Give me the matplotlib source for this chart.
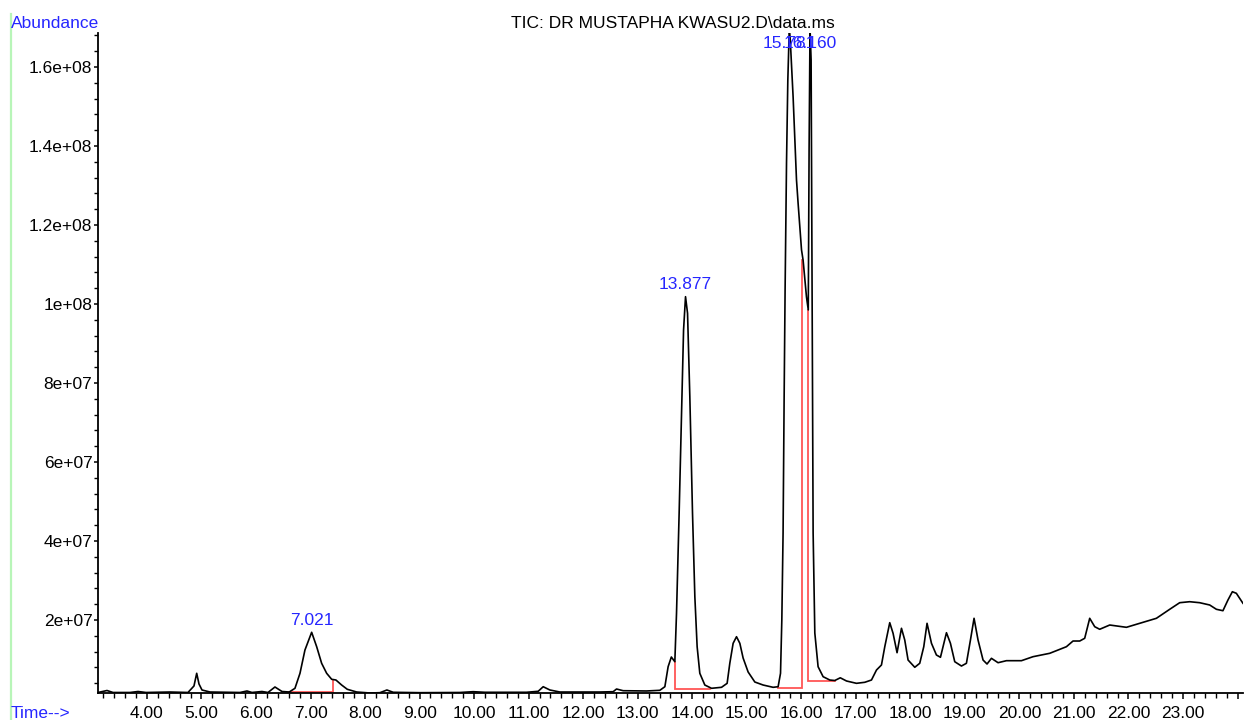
import matplotlib
matplotlib.use("Agg")
import matplotlib.pyplot as plt
import numpy as np
from matplotlib.lines import Line2D
from matplotlib.ticker import MultipleLocator, FuncFormatter

plt.rcParams['font.family'] = ['Liberation Sans', 'DejaVu Sans']

# ---- data (time in minutes, abundance in units of 1e7) ----
time_min = [
    3.103, 3.268, 3.378, 3.690, 3.837, 3.983, 4.423, 4.753, 4.863, 4.913,
    4.955, 5.010, 5.157, 5.707, 5.835, 5.927, 6.110, 6.220, 6.348, 6.477,
    6.610, 6.715, 6.807, 6.898, 7.021, 7.113, 7.204, 7.296, 7.388, 7.466,
    7.571, 7.674, 7.846, 8.090, 8.273, 8.401, 8.517, 9.006, 9.740, 9.983,
    10.198, 10.962, 11.175, 11.267, 11.390, 11.573, 12.306, 12.550, 12.612, 12.733,
    13.162, 13.406, 13.498, 13.558, 13.617, 13.681, 13.712, 13.760, 13.804, 13.841,
    13.877, 13.914, 13.956, 14.005, 14.048, 14.090, 14.139, 14.231, 14.354, 14.537,
    14.640, 14.689, 14.750, 14.812, 14.873, 14.933, 15.025, 15.148, 15.300, 15.483,
    15.575, 15.619, 15.643, 15.666, 15.685, 15.703, 15.729, 15.753, 15.780, 15.798,
    15.850, 15.912, 15.941, 16.004, 16.033, 16.095, 16.128, 16.143, 16.160, 16.180,
    16.198, 16.217, 16.248, 16.308, 16.400, 16.522, 16.614, 16.715, 16.829, 17.012,
    17.164, 17.287, 17.379, 17.470, 17.531, 17.622, 17.683, 17.756, 17.837, 17.897,
    17.958, 18.081, 18.172, 18.246, 18.306, 18.387, 18.478, 18.552, 18.662, 18.735,
    18.814, 18.937, 19.028, 19.102, 19.168, 19.241, 19.333, 19.406, 19.487, 19.608,
    19.762, 20.037, 20.249, 20.556, 20.862, 20.983, 21.106, 21.197, 21.289, 21.381,
    21.472, 21.656, 21.962, 22.206, 22.512, 22.756, 22.939, 23.122, 23.305, 23.489,
    23.612, 23.732, 23.824, 23.905, 23.978, 24.099,
]
abundance_e7 = [
    0.165, 0.215, 0.165, 0.165, 0.190, 0.165, 0.177, 0.165, 0.330, 0.651,
    0.380, 0.228, 0.177, 0.165, 0.203, 0.165, 0.190, 0.165, 0.304, 0.190,
    0.177, 0.271, 0.651, 1.240, 1.689, 1.324, 0.904, 0.651, 0.499, 0.481,
    0.354, 0.246, 0.177, 0.152, 0.160, 0.228, 0.170, 0.160, 0.165, 0.185,
    0.170, 0.170, 0.195, 0.311, 0.228, 0.177, 0.177, 0.185, 0.253, 0.210,
    0.203, 0.220, 0.311, 0.818, 1.063, 0.944, 2.177, 4.709, 7.241, 9.342,
    10.185, 9.765, 7.653, 4.709, 2.590, 1.324, 0.651, 0.354, 0.271, 0.296,
    0.397, 0.904, 1.410, 1.577, 1.410, 1.038, 0.684, 0.430, 0.354, 0.296,
    0.311, 0.651, 2.000, 4.203, 7.570, 10.354, 13.570, 15.670, 16.990, 16.680,
    15.240, 13.140, 12.560, 11.370, 11.110, 10.180, 9.850, 13.900, 16.990, 16.180,
    10.100, 4.203, 1.671, 0.818, 0.565, 0.481, 0.468, 0.537, 0.456, 0.397,
    0.423, 0.481, 0.734, 0.861, 1.324, 1.932, 1.663, 1.172, 1.790, 1.494,
    0.987, 0.803, 0.904, 1.324, 1.916, 1.410, 1.114, 1.056, 1.678, 1.410,
    0.944, 0.835, 0.904, 1.494, 2.043, 1.494, 0.987, 0.886, 1.030, 0.919,
    0.970, 0.970, 1.071, 1.157, 1.324, 1.468, 1.468, 1.537, 2.043, 1.830,
    1.765, 1.873, 1.815, 1.916, 2.043, 2.271, 2.438, 2.463, 2.438, 2.380,
    2.271, 2.235, 2.506, 2.716, 2.676, 2.423,
]

# integrated peaks: label, apex time, apex abundance (1e7)
peak_labels = ["7.021", "13.877", "15.781", "16.160"]
peak_times = [7.021, 13.877, 15.780, 16.160]
peak_apex_e7 = [1.689, 10.185, 16.990, 16.990]

# integration baselines (time, abundance 1e7) polylines
integ_t = [
    [6.610, 7.411, 7.411],
    [13.690, 13.690, 14.323],
    [15.569, 16.004, 16.004],
    [16.119, 16.119, 16.614],
]
integ_a = [
    [0.177, 0.177, 0.481],
    [0.944, 0.253, 0.253],
    [0.286, 0.286, 11.11],
    [9.85, 0.468, 0.468],
]

title_text = "TIC: DR MUSTAPHA KWASU2.D\\data.ms"
x_range = (3.103, 24.10)
y_range_e7 = (0.152, 16.86)

# ---- figure ----
W, H = 1244, 720
fig = plt.figure(figsize=(W / 100, H / 100), dpi=100)
ax = fig.add_axes([98 / W, (H - 693) / H, (1243 - 98) / W, (693 - 33) / H])

blue = '#2626ff'
fs = 12.5
scale = 1e7
t = np.array(time_min)
a = np.array(abundance_e7) * scale

for ti, ai in zip(integ_t, integ_a):
    ax.plot(ti, np.array(ai) * scale, color='#ff5555', lw=1.3, zorder=2,
            solid_joinstyle='miter')

ax.plot(t, a, color='black', lw=1.2, zorder=3, solid_joinstyle='round')

ax.set_xlim(*x_range)
ymax = y_range_e7[1] * scale
ax.set_ylim(y_range_e7[0] * scale, ymax)

for lab, pt, pa in zip(peak_labels, peak_times, peak_apex_e7):
    ya = pa * scale
    if ya >= ymax:
        ax.annotate(lab, (pt, ymax), xytext=(0, -10), textcoords='offset pixels',
                    ha='center', va='center', color=blue, fontsize=fs,
                    annotation_clip=False, zorder=4)
    else:
        ax.annotate(lab, (pt, ya), xytext=(0, 12), textcoords='offset pixels',
                    ha='center', va='center', color=blue, fontsize=fs, zorder=4)

for s in ['top', 'right']:
    ax.spines[s].set_visible(False)
for s in ['left', 'bottom']:
    ax.spines[s].set_linewidth(1.3)

def xfmt(v, p):
    if v > 23.5:
        return ""
    return f"{v:.2f}"

ax.xaxis.set_major_locator(MultipleLocator(1.0))
ax.xaxis.set_minor_locator(MultipleLocator(0.2))
ax.xaxis.set_major_formatter(FuncFormatter(xfmt))
ax.yaxis.set_major_locator(MultipleLocator(2e7))
ax.yaxis.set_minor_locator(MultipleLocator(4e6))
ax.yaxis.set_major_formatter(FuncFormatter(lambda v, p: "%g" % v if v > 0 else ""))

ax.tick_params(axis='x', which='major', length=4.5, width=1.1, direction='out',
               labelsize=fs, pad=5)
ax.tick_params(axis='x', which='minor', length=3.5, width=1.0, direction='out')
ax.tick_params(axis='y', which='major', length=3, width=1.1, direction='out',
               labelsize=fs, pad=1)
ax.tick_params(axis='y', which='minor', length=3, width=1.0, direction='out')

fig.text(11 / W, 1 - 24 / H, "Abundance", color=blue, fontsize=fs,
         ha='left', va='center')
fig.text(11 / W, 1 - 714 / H, "Time-->", color=blue, fontsize=fs,
         ha='left', va='center')
fig.text(673 / W, 1 - 24 / H, title_text, color='black', fontsize=fs,
         ha='center', va='center')

fig.add_artist(Line2D([10.5 / W, 10.5 / W], [0, 1 - 14 / H], color='#b8f5b8',
                      lw=1.6, transform=fig.transFigure))

fig.savefig("out.png", dpi=100)
